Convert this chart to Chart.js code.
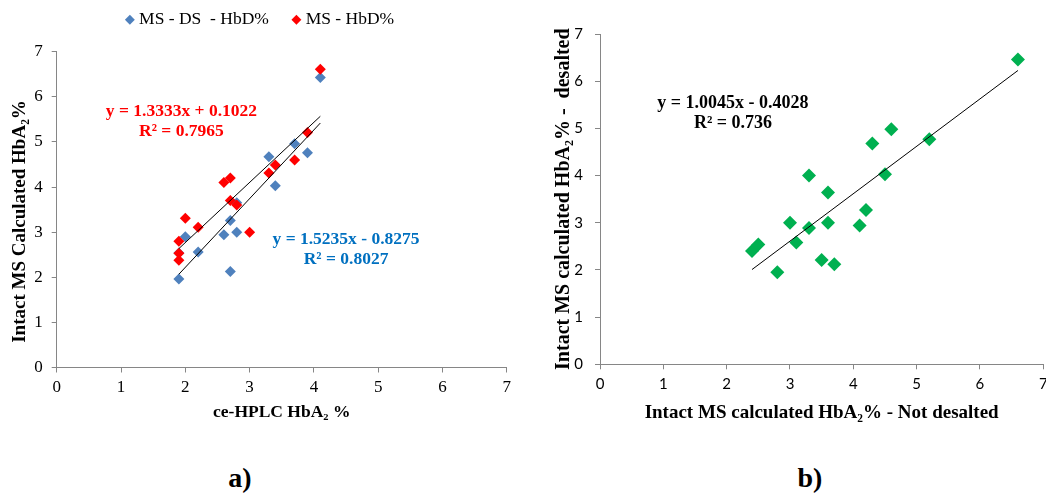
<!DOCTYPE html>
<html><head><meta charset="utf-8">
<script src="https://cdn.jsdelivr.net/npm/chart.js@4.4.1/dist/chart.umd.min.js"></script>
<style>
html,body{margin:0;padding:0;width:1046px;height:494px;overflow:hidden;background:#fff;}
#ca{position:absolute;left:0;top:-16px;}
#cb{position:absolute;left:530px;top:0;}
.lab{position:absolute;font:bold 28px "Liberation Serif",serif;transform:translate(-50%,-50%);color:#000;}
</style></head><body>
<canvas id="ca" width="520" height="445"></canvas>
<canvas id="cb" width="530" height="445"></canvas>
<div class="lab" style="left:240px;top:478px">a)</div>
<div class="lab" style="left:810px;top:478px">b)</div>
<script>
// ---- Panel a data ----
const aX_DS = [1.9, 1.9, 2.0, 2.2, 2.6, 2.7, 2.7, 2.8, 2.8, 3.3, 3.4, 3.7, 3.9, 4.1];
const aY_DS = [1.96, 2.54, 2.90, 2.56, 2.94, 3.26, 2.13, 3.00, 3.65, 4.67, 4.03, 4.96, 4.76, 6.43];
const aX_MS = [1.9, 1.9, 1.9, 2.0, 2.2, 2.6, 2.7, 2.7, 2.8, 3.0, 3.3, 3.4, 3.7, 3.9, 4.1];
const aY_MS = [2.80, 2.53, 2.38, 3.31, 3.11, 4.10, 4.20, 3.70, 3.60, 3.00, 4.31, 4.49, 4.60, 5.21, 6.61];
const aTrendMS = [1.3333, 0.1022];
const aTrendDS = [1.5235, -0.8275];
const aR2 = ['0.7965', '0.8027'];
const aLabels = ['MS - DS  - HbD%', 'MS - HbD%'];
// ---- Panel b data ----
const bX = [2.4, 2.5, 2.8, 3.0, 3.1, 3.3, 3.3, 3.5, 3.6, 3.6, 3.7, 4.1, 4.2, 4.3, 4.5, 4.6, 5.2, 6.6];
const bY = [2.40, 2.54, 1.95, 3.00, 2.58, 4.00, 2.89, 2.21, 3.64, 3.00, 2.12, 2.94, 3.27, 4.68, 4.03, 4.98, 4.77, 6.46];
const bTrend = [1.0045, -0.4028];
const bR2 = ['0.736'];
const tickValues = [0, 1, 2, 3, 4, 5, 6, 7];

const BLUE = '#4F81BD', RED = '#FF0000', GREEN = '#00B050', AX = '#868686';
const SERIF = '"Liberation Serif", "Times New Roman", serif';

function pts(xs, ys) { return xs.map((x, i) => ({x: x, y: ys[i]})); }
function trend(xs, t) {
  const lo = Math.min(...xs), hi = Math.max(...xs);
  return [{x: lo, y: t[0] * lo + t[1]}, {x: hi, y: t[0] * hi + t[1]}];
}
function eqText(t) {
  return 'y = ' + t[0].toFixed(4) + 'x ' + (t[1] < 0 ? '- ' : '+ ') + Math.abs(t[1]).toFixed(4);
}

const eqPlugin = {
  id: 'eqLabels',
  afterDatasetsDraw(chart, args, opts) {
    const ctx = chart.ctx, sx = chart.scales.x, sy = chart.scales.y;
    ctx.save();
    ctx.font = opts.font;
    ctx.textAlign = 'center';
    ctx.textBaseline = 'middle';
    for (const it of opts.items) {
      ctx.fillStyle = it.color;
      ctx.fillText(it.text, sx.getPixelForValue(it.x), sy.getPixelForValue(it.y));
    }
    ctx.restore();
  }
};

function axis(opts) {
  return {
    type: 'linear', min: 0, max: 7,
    afterBuildTicks: s => { s.ticks = tickValues.map(v => ({value: v})); },
    ticks: {color: '#000', padding: opts.tpad, font: opts.tfont},
    grid: {display: true, drawOnChartArea: false, drawTicks: true, tickLength: 5, color: AX, lineWidth: 1},
    border: {display: true, color: AX, width: 1},
    title: {display: true, text: opts.title, color: '#000', font: opts.titleFont, padding: opts.titlePad},
    afterFit: opts.fit
  };
}

const serifTick = {family: SERIF, size: 17};
const sansTick = {family: 'Lato, "Open Sans", sans-serif', size: 15};

new Chart(document.getElementById('ca'), {
  type: 'scatter',
  data: {
    datasets: [
      {label: aLabels[0], data: pts(aX_DS, aY_DS), pointStyle: 'rectRot', pointRadius: 5.5,
       backgroundColor: BLUE, borderColor: BLUE, pointBackgroundColor: BLUE, pointBorderWidth: 0, borderWidth: 0, order: 2, xAxisID: 'x', yAxisID: 'y'},
      {label: aLabels[1], data: pts(aX_MS, aY_MS), pointStyle: 'rectRot', pointRadius: 5.5,
       backgroundColor: RED, borderColor: RED, pointBackgroundColor: RED, pointBorderWidth: 0, borderWidth: 0, order: 1, xAxisID: 'x', yAxisID: 'y'},
      {label: 'trend MS', data: trend(aX_MS, aTrendMS), showLine: true, borderColor: '#000', borderWidth: 1,
       pointRadius: 0, order: 0, xAxisID: 'x', yAxisID: 'y'},
      {label: 'trend DS', data: trend(aX_DS, aTrendDS), showLine: true, borderColor: '#000', borderWidth: 1,
       pointRadius: 0, order: 0, xAxisID: 'x', yAxisID: 'y'}
    ]
  },
  options: {
    responsive: false, animation: false, events: [],
    layout: {padding: {left: 16.7, right: 13.2, top: 0, bottom: 0}},
    scales: {
      x: axis({tpad: 5, tfont: serifTick, title: 'ce-HPLC HbA\u2082 %',
               titleFont: {family: SERIF, size: 17.5, weight: 'bold'},
               titlePad: {top: 0, bottom: 5.8}, fit: s => { s.height = 61.5; }}),
      y: axis({tpad: 9, tfont: serifTick, title: 'Intact MS Calculated HbA\u2082%     ',
               titleFont: {family: SERIF, size: 19, weight: 'bold'},
               titlePad: {top: -8.3, bottom: 0}, fit: s => { s.width = 40; }}),
      xTop: {type: 'linear', position: 'top', display: true, grid: {display: false},
             ticks: {display: false}, border: {display: false}, afterFit: s => { s.height = 13.2; }}
    },
    plugins: {
      tooltip: {enabled: false},
      legend: {
        display: true, position: 'top', align: 'center',
        labels: {
          usePointStyle: true, pointStyle: 'rectRot', boxWidth: 1, boxHeight: 7, padding: 27,
          color: '#000', font: {family: SERIF, size: 17.5},
          filter: item => item.datasetIndex < 2,
          sort: (a, b) => a.datasetIndex - b.datasetIndex
        }
      },
      eqLabels: {
        font: 'bold 17.5px ' + SERIF,
        items: [
          {x: 1.94, y: 5.67, text: eqText(aTrendMS), color: RED},
          {x: 1.94, y: 5.23, text: 'R\u00B2 = ' + aR2[0], color: RED},
          {x: 4.50, y: 2.84, text: eqText(aTrendDS), color: '#0070C0'},
          {x: 4.50, y: 2.40, text: 'R\u00B2 = ' + aR2[1], color: '#0070C0'}
        ]
      }
    }
  },
  plugins: [eqPlugin]
});

new Chart(document.getElementById('cb'), {
  type: 'scatter',
  data: {
    datasets: [
      {label: 'trend', data: trend(bX, bTrend), showLine: true, borderColor: '#000', borderWidth: 1,
       pointRadius: 0, order: 0},
      {label: 'desalted', data: pts(bX, bY), pointStyle: 'rectRot', pointRadius: 7,
       backgroundColor: GREEN, borderColor: GREEN, pointBackgroundColor: GREEN, pointBorderWidth: 0, borderWidth: 0, order: 1}
    ]
  },
  options: {
    responsive: false, animation: false, events: [],
    layout: {padding: {left: 0, right: 16.7, top: 34, bottom: 0}},
    scales: {
      x: axis({tpad: 6, tfont: sansTick, title: 'Intact MS calculated HbA\u2082% - Not desalted',
               titleFont: {family: SERIF, size: 19, weight: 'bold'},
               titlePad: {top: 0, bottom: 20.6}, fit: s => { s.height = 80.7; }}),
      y: axis({tpad: 12, tfont: sansTick, title: 'Intact MS calculated HbA\u2082% -  desalted',
               titleFont: {family: SERIF, size: 20, weight: 'bold'},
               titlePad: {top: 22, bottom: 0}, fit: s => { s.width = 70; }})
    },
    plugins: {
      tooltip: {enabled: false},
      legend: {display: false},
      eqLabels: {
        font: 'bold 18px ' + SERIF,
        items: [
          {x: 2.10, y: 5.54, text: eqText(bTrend), color: '#000'},
          {x: 2.10, y: 5.11, text: 'R\u00B2 = ' + bR2[0], color: '#000'}
        ]
      }
    }
  },
  plugins: [eqPlugin]
});
</script>
</body></html>
